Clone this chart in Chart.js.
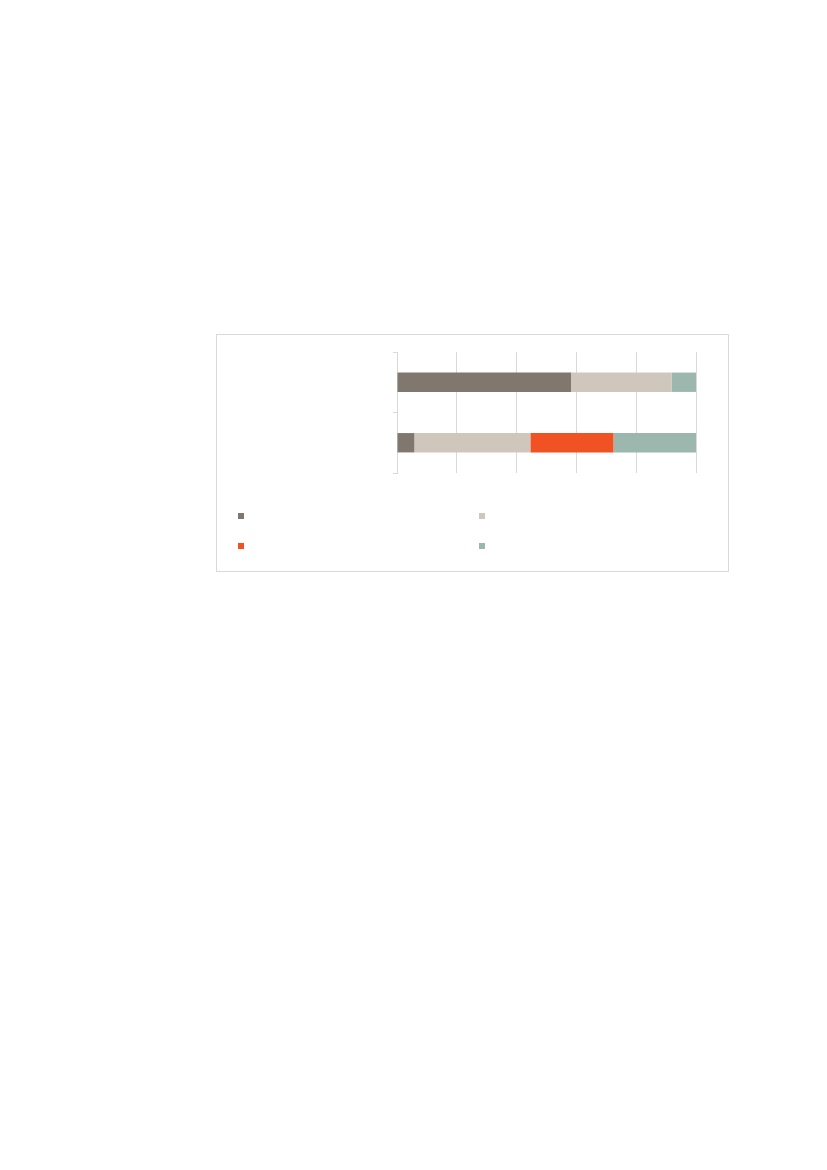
<!DOCTYPE html>
<html>
<head>
<meta charset="utf-8">
<script src="https://cdn.jsdelivr.net/npm/chart.js@4"></script>
<style>
    body { margin: 0; background: #fff; }
    #box {
        position: absolute;
        left: 216px;
        top: 334px;
        width: 511px;
        height: 236px;
        border: 1px solid #d9d9d9;
    }
</style>
</head>
<body>
<div id="box"><canvas id="myChart" width="511" height="236"></canvas></div>
<script>
const categories = ['Group 1', 'Group 2'];
const seriesNames = ['Series 1', 'Series 2', 'Series 3', 'Series 4'];
const series1 = [58.2, 5.8];
const series2 = [33.6, 38.8];
const series3 = [0, 27.8];
const series4 = [8.2, 27.6];
const xTicks = [0, 20, 40, 60, 80, 100];

const colors = ['#80776e', '#d0c7bc', '#f05223', '#9cb8ae'];
const values = [series1, series2, series3, series4];

// legend squares only, the reference shows no legend text
const squareLegend = {
    id: 'squareLegend',
    afterDraw(chart) {
        const ctx = chart.ctx;
        const spots = [[21, 178], [262, 178], [21, 208], [262, 208]];
        chart.data.datasets.forEach((ds, i) => {
            ctx.fillStyle = ds.backgroundColor;
            ctx.fillRect(spots[i][0], spots[i][1], 6, 6);
        });
    }
};

const data = {
    labels: categories,
    datasets: seriesNames.map((name, i) => ({
        label: name,
        data: values[i],
        backgroundColor: colors[i],
        borderWidth: 0,
        categoryPercentage: 0.5,
        barPercentage: 0.64
    }))
};

const config = {
    type: 'bar',
    data: data,
    options: {
        indexAxis: 'y',
        responsive: false,
        animation: false,
        layout: { padding: { left: 176, right: 32, top: 17, bottom: 98 } },
        plugins: {
            legend: { display: false },
            tooltip: { enabled: false }
        },
        scales: {
            x: {
                stacked: true,
                min: 0,
                max: 100,
                afterBuildTicks: (axis) => { axis.ticks = xTicks.map(v => ({ value: v })); },
                ticks: { display: false },
                grid: { color: '#d9d9d9', drawTicks: false },
                border: { display: false }
            },
            y: {
                stacked: true,
                ticks: { display: false },
                grid: { color: '#d9d9d9', drawOnChartArea: false, drawTicks: true, tickLength: 4 },
                border: { display: true, color: '#d9d9d9' }
            }
        }
    },
    plugins: [squareLegend]
};

const myChart = new Chart(document.getElementById('myChart'), config);
</script>
</body>
</html>
